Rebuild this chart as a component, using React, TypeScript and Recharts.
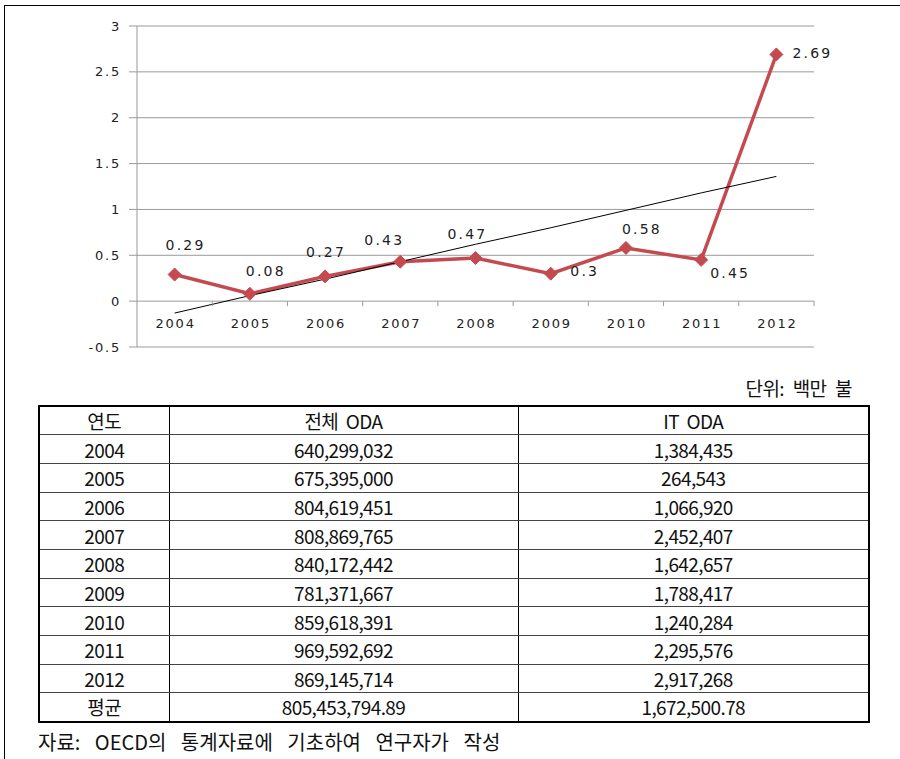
import React from "react";
import { LineChart, Line, XAxis, YAxis, CartesianGrid, LabelList } from "recharts";

// IT ODA 비중 (%) 연도별
const years = ["2004", "2005", "2006", "2007", "2008", "2009", "2010", "2011", "2012"];
const itShare = [0.29, 0.08, 0.27, 0.43, 0.47, 0.3, 0.58, 0.45, 2.69];
// 추세선
const trendValues = [-0.13, 0.06, 0.24, 0.43, 0.62, 0.8, 0.99, 1.18, 1.36];
const yTicks = [-0.5, 0, 0.5, 1, 1.5, 2, 2.5, 3];

// 표
const tableRows = ["2004", "2005", "2006", "2007", "2008", "2009", "2010", "2011", "2012", "평균"];
const totalOda = [
  "640,299,032", "675,395,000", "804,619,451", "808,869,765", "840,172,442",
  "781,371,667", "859,618,391", "969,592,692", "869,145,714", "805,453,794.89",
];
const itOda = [
  "1,384,435", "264,543", "1,066,920", "2,452,407", "1,642,657",
  "1,788,417", "1,240,284", "2,295,576", "2,917,268", "1,672,500.78",
];

const chartData = years.map((year, i) => ({ year, value: itShare[i], trend: trendValues[i] }));

// layout
const CHART_W = 900;
const CHART_H = 370;
const PLOT_LEFT = 137;
const PLOT_RIGHT = 814;
const PLOT_TOP = 26;
const X_AXIS_H = 23;
const PLOT_H = CHART_H - PLOT_TOP - X_AXIS_H;
const Y_MIN = yTicks[0];
const Y_MAX = yTicks[yTicks.length - 1];
const ZERO_Y = PLOT_TOP + (PLOT_H * Y_MAX) / (Y_MAX - Y_MIN);
const HALF_BAND = (PLOT_RIGHT - PLOT_LEFT) / years.length / 2;

const RED = "#c44a4f";
const TEXT = "#222";
const AXIS_FONT = "'DejaVu Sans', Verdana, sans-serif";
const KR_FONT = "'Noto Sans CJK KR', 'Noto Sans', sans-serif";

// label offsets (dx, dy) from each point
const labelOffsets = [
  [10, -30], [15, -23], [0, -24], [-17, -22], [-9, -24],
  [33, -3], [15, -19], [28, 13], [35, -1],
];

const XTick = (props: any) => {
  const { x, payload } = props;
  return (
    <g>
      <line x1={x + HALF_BAND} x2={x + HALF_BAND} y1={ZERO_Y} y2={ZERO_Y + 5} stroke="#999" />
      <text
        x={x + 1}
        y={ZERO_Y + 22}
        textAnchor="middle"
        dominantBaseline="central"
        fill={TEXT}
        fontSize={13}
        fontFamily={AXIS_FONT}
        letterSpacing={1.8}
      >
        {payload.value}
      </text>
    </g>
  );
};

const Diamond = (props: any) => {
  const { cx, cy, index } = props;
  if (cx == null || cy == null) return <g key={index} />;
  const r = 6.5;
  return (
    <path
      key={index}
      d={`M${cx},${cy - r} L${cx + r},${cy} L${cx},${cy + r} L${cx - r},${cy} Z`}
      fill={RED}
      stroke={RED}
    />
  );
};

const PointLabel = (props: any) => {
  const { x, y, value, index } = props;
  const [dx, dy] = labelOffsets[index] || [0, -20];
  return (
    <text
      x={x + dx + 1}
      y={y + dy}
      textAnchor="middle"
      dominantBaseline="central"
      fill={TEXT}
      fontSize={14}
      fontFamily={AXIS_FONT}
      letterSpacing={2.2}
    >
      {value}
    </text>
  );
};

const cellBase: React.CSSProperties = {
  borderBottom: "1px solid #444",
  textAlign: "center",
  padding: 0,
  fontSize: 19,
  letterSpacing: -0.6,
  wordSpacing: 4,
  color: "#111",
};

export default function App() {
  return (
    <div
      style={{
        position: "absolute",
        left: 0,
        top: 0,
        width: 900,
        height: 759,
        background: "#fff",
        overflow: "hidden",
      }}
    >
      <div
        style={{
          position: "absolute",
          left: 4,
          top: 5,
          width: 896,
          height: 754,
          borderLeft: "1px solid #000",
          borderTop: "1px solid #000",
        }}
      />
      <div style={{ position: "absolute", left: 0, top: 0 }}>
        <LineChart
          width={CHART_W}
          height={CHART_H}
          data={chartData}
          margin={{ top: PLOT_TOP, right: CHART_W - PLOT_RIGHT, bottom: 0, left: 0 }}
        >
          <CartesianGrid vertical={false} stroke="#9a9a9a" />
          <XAxis
            dataKey="year"
            height={X_AXIS_H}
            axisLine={false}
            tickLine={false}
            interval={0}
            padding={{ left: HALF_BAND, right: HALF_BAND }}
            tick={<XTick />}
          />
          <YAxis
            width={PLOT_LEFT}
            domain={[Y_MIN, Y_MAX]}
            ticks={yTicks}
            interval={0}
            axisLine={{ stroke: "#999" }}
            tickLine={{ stroke: "#999" }}
            tickSize={8}
            tickMargin={8}
            tick={{ fill: TEXT, fontSize: 13, fontFamily: AXIS_FONT, letterSpacing: 1.8 }}
          />
          <Line
            dataKey="value"
            stroke={RED}
            strokeWidth={3.5}
            dot={(p: any) => <Diamond {...p} />}
            activeDot={false}
            isAnimationActive={false}
          >
            <LabelList dataKey="value" content={<PointLabel />} />
          </Line>
          <Line
            dataKey="trend"
            stroke="#000"
            strokeWidth={1}
            dot={false}
            activeDot={false}
            isAnimationActive={false}
          />
        </LineChart>
      </div>

      <div
        style={{
          position: "absolute",
          right: 48,
          top: 376,
          height: 24,
          lineHeight: "24px",
          fontFamily: KR_FONT,
          fontSize: 19,
          letterSpacing: -0.6,
          wordSpacing: 5,
          color: "#111",
        }}
      >
        단위: 백만 불
      </div>

      <table
        style={{
          position: "absolute",
          left: 38,
          top: 405,
          width: 830,
          height: 317,
          borderCollapse: "collapse",
          tableLayout: "fixed",
          border: "2px solid #000",
          fontFamily: KR_FONT,
        }}
      >
        <colgroup>
          <col style={{ width: 130 }} />
          <col style={{ width: 349 }} />
          <col style={{ width: 351 }} />
        </colgroup>
        <tbody>
          <tr style={{ height: 28.7 }}>
            <td style={{ ...cellBase, borderRight: "1px solid #000" }}>연도</td>
            <td style={{ ...cellBase, borderRight: "1px solid #000" }}>전체 ODA</td>
            <td style={cellBase}>IT ODA</td>
          </tr>
          {tableRows.map((label, i) => (
            <tr key={label} style={{ height: 28.7 }}>
              <td style={{ ...cellBase, borderRight: "1px solid #000" }}>{label}</td>
              <td style={{ ...cellBase, borderRight: "1px solid #000" }}>{totalOda[i]}</td>
              <td style={cellBase}>{itOda[i]}</td>
            </tr>
          ))}
        </tbody>
      </table>

      <div
        style={{
          position: "absolute",
          left: 38,
          top: 730,
          height: 24,
          lineHeight: "24px",
          fontFamily: KR_FONT,
          fontSize: 20,
          wordSpacing: 10,
          color: "#111",
          whiteSpace: "nowrap",
        }}
      >
        자료: OECD의 통계자료에 기초하여 연구자가 작성
      </div>
    </div>
  );
}
